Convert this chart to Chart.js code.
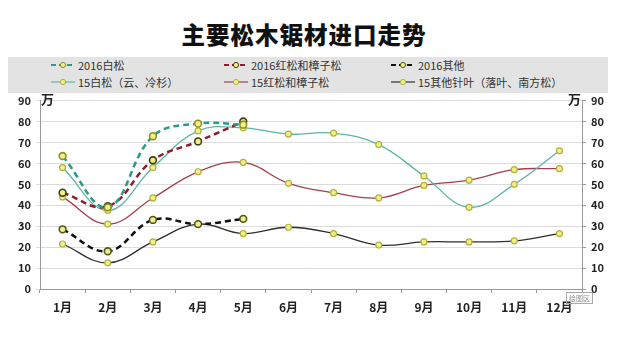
<!DOCTYPE html>
<html>
<head>
<meta charset="utf-8">
<script src="https://cdn.jsdelivr.net/npm/chart.js@4"></script>
<style>
  body { margin: 0; width: 627px; height: 338px; overflow: hidden; position: relative; background: #fff;
         font-family: "Noto Sans CJK SC", "Noto Sans", sans-serif; }
  #title { position: absolute; top: 15px; left: 0; width: 608px; text-align: center; line-height: 38px;
           font-size: 23.5px; font-weight: 900; letter-spacing: 1px; color: #111; }
  #legend { position: absolute; left: 8px; top: 57px; width: 600px; height: 36px; background: #e3e3e3; }
  .item { position: absolute; height: 14px; display: flex; align-items: center; font-size: 11px; color: #333; }
  .item svg { margin-right: 2px; }
  #wrap { position: absolute; left: 0; top: 89px; }
</style>
</head>
<body>
<div id="title">主要松木锯材进口走势</div>
<div id="legend"></div>
<div id="wrap"><canvas id="chart" width="627" height="249"></canvas></div>
<script>
// months and import volumes (万)
const months = ['1月', '2月', '3月', '4月', '5月', '6月', '7月', '8月', '9月', '10月', '11月', '12月'];
const white2016 = [63.5, 39, 73, 79, 78.5];
const red2016 = [46, 39.5, 61.5, 70.5, 80];
const other2016 = [28.5, 18, 33, 31, 33.5];
const white15 = [58, 37.5, 58, 75.5, 77, 74, 74.5, 69, 54, 39, 50, 66];
const red15 = [44, 31, 43.5, 56, 60.5, 50.5, 46, 43.5, 49.5, 52, 57, 57.5];
const other15 = [21.5, 12.5, 22.5, 31, 26.5, 29.5, 26.5, 21, 22.5, 22.5, 23, 26.5];
const yMax = 90;
const yStep = 10;

function series(label, data, color, dashed, pointEdge) {
  return {
    label: label,
    data: data,
    borderColor: color,
    borderWidth: dashed ? 2.5 : 1.3,
    borderDash: dashed ? [6, 4] : [],
    tension: 0.4,
    pointRadius: dashed ? 3.4 : 3,
    pointBorderWidth: dashed ? 1.6 : 1.2,
    pointBackgroundColor: '#efef8c',
    pointBorderColor: pointEdge,
    yAxisID: 'y'
  };
}

const datasets = [
  series('2016白松', white2016, '#2b9a86', true, '#8f8f1e'),
  series('2016红松和樟子松', red2016, '#8e1c2c', true, '#3f3f10'),
  series('2016其他', other2016, '#111111', true, '#55551a'),
  series('15白松（云、冷杉）', white15, '#5cb5a5', false, '#b0b03a'),
  series('15红松和樟子松', red15, '#a3404f', false, '#b0b03a'),
  series('15其他针叶（落叶、南方松）', other15, '#2e2e2e', false, '#b0b03a')
];

// legend: three columns, two rows
const legendBox = document.getElementById('legend');
const colX = [42, 215, 382];
const rowY = [1, 18];
datasets.forEach(function (ds, i) {
  const el = document.createElement('div');
  el.className = 'item';
  el.style.left = colX[i % 3] + 'px';
  el.style.top = rowY[Math.floor(i / 3)] + 'px';
  const dash = ds.borderDash.length ? 'stroke-dasharray="5 3"' : '';
  el.innerHTML = '<svg width="26" height="10"><line x1="1" y1="5" x2="25" y2="5" stroke="' + ds.borderColor +
    '" stroke-width="' + (ds.borderDash.length ? 2 : 1.2) + '" ' + dash + '/>' +
    '<circle cx="13" cy="5" r="2.6" fill="#efef8c" stroke="' + ds.pointBorderColor + '" stroke-width="1"/></svg>' +
    '<span>' + ds.label + '</span>';
  legendBox.appendChild(el);
});

// unit marks beside both axes and the small plot-area tag
const extras = {
  id: 'extras',
  afterDraw(chart) {
    const c = chart.ctx;
    const a = chart.chartArea;
    c.save();
    c.fillStyle = '#222';
    c.font = 'bold 13px "Noto Sans CJK SC"';
    c.textBaseline = 'middle';
    c.textAlign = 'left';
    c.fillText('万', a.left + 1, a.top - 2);
    c.textAlign = 'right';
    c.fillText('万', a.right - 1, a.top - 2);
    c.font = '7px "Noto Sans CJK SC"';
    c.fillStyle = '#888';
    c.strokeStyle = '#aaa';
    c.lineWidth = 1;
    c.strokeRect(a.right - 15.5, a.bottom + 3.5, 26, 11);
    c.textAlign = 'center';
    c.fillText('绘图区', a.right - 2.5, a.bottom + 9);
    c.restore();
  }
};

const tickFont = { family: '"Noto Sans CJK SC"', size: 11, weight: 'bold' };

new Chart(document.getElementById('chart').getContext('2d'), {
  type: 'line',
  data: { labels: months, datasets: datasets },
  options: {
    responsive: false,
    animation: false,
    layout: { padding: { top: 2 } },
    plugins: { legend: { display: false }, tooltip: { enabled: false } },
    scales: {
      x: {
        offset: true,
        grid: { drawOnChartArea: false, offset: true, tickLength: 4, color: '#999' },
        border: { color: '#999' },
        ticks: { font: { family: '"Noto Sans CJK SC"', size: 12, weight: 'bold' }, color: '#222', padding: 7, maxRotation: 0 },
        afterFit(s) { s.height = 49; }
      },
      y: {
        min: 0, max: yMax,
        ticks: { stepSize: yStep, font: tickFont, color: '#222', padding: 5 },
        grid: { color: '#dcdcdc', tickLength: 4 },
        border: { color: '#999' },
        afterFit(s) { s.width = 40; }
      },
      y2: {
        position: 'right',
        min: 0, max: yMax,
        ticks: { stepSize: yStep, font: tickFont, color: '#222', padding: 5 },
        grid: { drawOnChartArea: false, tickLength: 4, color: '#999' },
        border: { color: '#999' },
        afterFit(s) { s.width = 45; }
      }
    }
  },
  plugins: [extras]
});
</script>
</body>
</html>
